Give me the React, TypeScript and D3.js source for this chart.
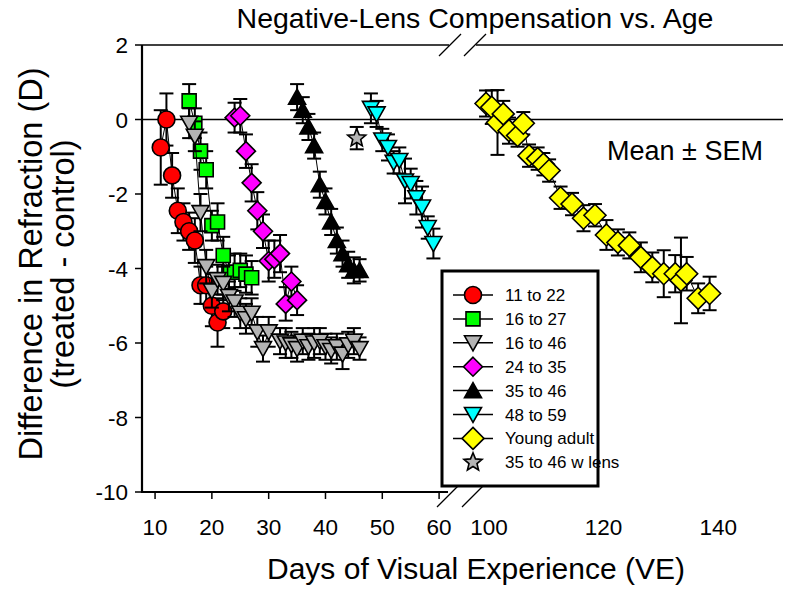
import React from 'react';
import * as d3 from 'd3';

const W = 792;
const H = 589;

const yTicks = [2, 0, -2, -4, -6, -8, -10];
const xTicks1 = [10, 20, 30, 40, 50, 60];
const xTicks2 = [100, 120, 140];

const titleText = 'Negative-Lens Compensation vs. Age';
const xTitle = 'Days of Visual Experience (VE)';
const yTitle1 = 'Difference in Refraction (D)';
const yTitle2 = '(treated - control)';
const noteText = 'Mean \u00B1 SEM';

const legendLabels = ['11 to 22', '16 to 27', '16 to 46', '24 to 35', '35 to 46', '48 to 59', 'Young adult', '35 to 46 w lens'];

// 11 to 22
const redDays = [11, 12, 13, 14, 15, 16, 17, 18, 19, 20, 21, 22];
const redVals = [-0.75, 0, -1.5, -2.45, -2.75, -3.0, -3.25, -4.45, -4.45, -5.0, -5.45, -5.15];
const redSem = [1.0, 0.7, 0.6, 0.6, 0.5, 0.5, 0.6, 0.5, 0.5, 0.55, 0.65, 0.45];

// 16 to 27
const greenDays = [16, 17, 18, 19, 20, 21, 22, 23, 24, 25, 26, 27];
const greenVals = [0.5, -0.1, -0.85, -1.35, -2.85, -2.75, -3.65, -4.1, -4.1, -4.05, -4.15, -4.25];
const greenSem = [0.45, 0.4, 0.5, 0.5, 0.4, 0.5, 0.5, 0.45, 0.5, 0.45, 0.5, 0.45];

// 16 to 46
const grayDays = [16, 17, 18, 19, 20, 21, 22, 23, 24, 25, 26, 27, 28, 29, 30, 32, 33, 34, 35, 36, 37, 38, 39, 40, 41, 42, 43, 44, 45, 46];
const grayVals = [-0.1, -0.45, -2.5, -3.95, -4.6, -4.3, -4.4, -4.75, -4.9, -5.2, -5.35, -5.2, -5.7, -6.15, -5.7, -5.95, -6.0, -6.05, -6.15, -5.95, -6.1, -6.0, -5.95, -6.1, -6.2, -6.1, -6.3, -6.05, -5.95, -6.15];
const graySem = [0.4, 0.4, 0.5, 0.45, 0.45, 0.4, 0.45, 0.4, 0.4, 0.4, 0.4, 0.4, 0.4, 0.35, 0.4, 0.35, 0.4, 0.35, 0.35, 0.35, 0.35, 0.4, 0.35, 0.35, 0.35, 0.35, 0.4, 0.35, 0.35, 0.3];

// 24 to 35
const magDays = [24, 25, 26, 27, 28, 29, 30, 31, 32, 33, 34, 35];
const magVals = [0.05, 0.1, -0.85, -1.7, -2.45, -3.0, -3.8, -3.75, -3.6, -4.95, -4.35, -4.85];
const magSem = [0.4, 0.45, 0.45, 0.5, 0.5, 0.45, 0.55, 0.5, 0.5, 0.45, 0.4, 0.4];

// 35 to 46
const blackDays = [35, 36, 37, 38, 39, 40, 41, 42, 43, 44, 45, 46];
const blackVals = [0.6, 0.25, -0.2, -0.7, -1.75, -2.2, -2.75, -3.25, -3.6, -3.9, -4.05, -4.05];
const blackSem = [0.35, 0.35, 0.35, 0.35, 0.35, 0.35, 0.35, 0.35, 0.35, 0.35, 0.35, 0.3];

// 48 to 59
const cyanDays = [48, 49, 50, 51, 52, 53, 54, 55, 56, 57, 58, 59];
const cyanVals = [0.3, 0.15, -0.55, -0.75, -1.15, -1.1, -1.65, -1.72, -2.1, -2.35, -2.9, -3.33];
const cyanSem = [0.4, 0.35, 0.3, 0.35, 0.3, 0.35, 0.6, 0.4, 0.45, 0.55, 0.3, 0.4];

// Young adult
const yaDays = [99.5, 100.5, 101.5, 102.5, 103.5, 105, 106, 107, 108.5, 109.5, 110.5, 112.5, 114.5, 116.5, 118.5, 120.5, 122.5, 124.5, 126.5, 128.5, 130.5, 132.5, 133.5, 134.5, 136.5, 138.5];
const yaVals = [0.43, 0.33, -0.08, 0.15, -0.3, -0.43, -0.1, -0.97, -1.05, -1.2, -1.37, -2.1, -2.27, -2.65, -2.57, -3.1, -3.3, -3.38, -3.7, -3.97, -4.14, -4.14, -4.32, -4.14, -4.8, -4.67];
const yaSem = [0.35, 0.45, 0.87, 0.35, 0.35, 0.3, 0.3, 0.3, 0.3, 0.3, 0.3, 0.3, 0.3, 0.35, 0.3, 0.4, 0.35, 0.35, 0.4, 0.4, 0.63, 0.5, 1.15, 0.45, 0.4, 0.45];

// 35 to 46 w lens
const starDays = [45.5];
const starVals = [-0.5];
const starSem = [0.3];

type Shape = 'circle' | 'square' | 'tdown' | 'tup' | 'diamond' | 'bigdiamond' | 'star';

const seriesList = [
  { days: redDays, vals: redVals, sem: redSem, shape: 'circle' as Shape, fill: '#ff0000' },
  { days: greenDays, vals: greenVals, sem: greenSem, shape: 'square' as Shape, fill: '#00ff00' },
  { days: grayDays, vals: grayVals, sem: graySem, shape: 'tdown' as Shape, fill: '#b4b4b4' },
  { days: magDays, vals: magVals, sem: magSem, shape: 'diamond' as Shape, fill: '#ff00ff' },
  { days: blackDays, vals: blackVals, sem: blackSem, shape: 'tup' as Shape, fill: '#000000' },
  { days: cyanDays, vals: cyanVals, sem: cyanSem, shape: 'tdown' as Shape, fill: '#00ffff' },
  { days: yaDays, vals: yaVals, sem: yaSem, shape: 'bigdiamond' as Shape, fill: '#ffff00' },
  { days: starDays, vals: starVals, sem: starSem, shape: 'star' as Shape, fill: '#b4b4b4' },
];

function shapePath(shape: Shape): string {
  switch (shape) {
    case 'circle': {
      const p = d3.path();
      p.arc(0, 0, 8.5, 0, Math.PI * 2);
      p.closePath();
      return p.toString();
    }
    case 'square':
      return 'M-7,-7L7,-7L7,7L-7,7Z';
    case 'tdown':
      return 'M-8.5,-7L8.5,-7L0,8Z';
    case 'tup':
      return 'M0,-8L8.5,7L-8.5,7Z';
    case 'diamond':
      return 'M0,-9.5L9.5,0L0,9.5L-9.5,0Z';
    case 'bigdiamond':
      return 'M0,-11L11,0L0,11L-11,0Z';
    case 'star': {
      const pts: string[] = [];
      for (let i = 0; i < 10; i++) {
        const r = i % 2 === 0 ? 9.5 : 4.2;
        const a = -Math.PI / 2 + (i * Math.PI) / 5;
        pts.push(`${(r * Math.cos(a)).toFixed(2)},${(r * Math.sin(a)).toFixed(2)}`);
      }
      return 'M' + pts.join('L') + 'Z';
    }
  }
  return '';
}

const FONT = '"Liberation Sans", Arial, sans-serif';

export default function App() {
  const left = 142;
  const top = 45;
  const bottom = 492;
  const right = 783;
  const brk1 = 450;
  const brk2 = 475;

  const y = d3.scaleLinear().domain([-10, 2]).range([bottom, top]);
  const x1 = d3.scaleLinear().domain([7.7, 62.8]).range([left, 455]);
  const x2 = d3.scaleLinear().domain([96.7, 151.3]).range([470, right]);
  const xs = (d: number) => (d < 80 ? x1(d) : x2(d));

  const line = d3
    .line<[number, number]>()
    .x((p) => xs(p[0]))
    .y((p) => y(p[1]));

  const slash = (cx: number, cy: number, k: string) => (
    <line key={k} x1={cx - 11} y1={cy + 11} x2={cx + 11} y2={cy - 11} stroke="#000" strokeWidth={1.2} />
  );

  const capW = 7;

  const legX = 442;
  const legY = 271;
  const legW = 156;
  const legH = 215;
  const rowY0 = 295;
  const rowDy = 23.9;

  return (
    <svg width={W} height={H} style={{ position: 'absolute', left: 0, top: 0, background: '#fff' }} fontFamily={FONT}>
      <rect x={0} y={0} width={W} height={H} fill="#fff" />
      {/* title */}
      <text x={475} y={28} fontSize={28.5} textAnchor="middle" fill="#000">{titleText}</text>

      {/* zero line */}
      <line x1={left} x2={right} y1={y(0)} y2={y(0)} stroke="#000" strokeWidth={1.3} />

      {/* series */}
      {seriesList.map((s, si) => {
        const pts: [number, number][] = s.days.map((d, i) => [d, s.vals[i]]);
        return (
          <g key={si}>
            {pts.length > 1 && <path d={line(pts) || ''} fill="none" stroke="#000" strokeWidth={1} />}
            {pts.map((p, i) => {
              const cx = xs(p[0]);
              const yt = y(p[1] + s.sem[i]);
              const yb = y(p[1] - s.sem[i]);
              return (
                <g key={i} stroke="#000" strokeWidth={2}>
                  <line x1={cx} x2={cx} y1={yt} y2={yb} />
                  <line x1={cx - capW} x2={cx + capW} y1={yt} y2={yt} />
                  <line x1={cx - capW} x2={cx + capW} y1={yb} y2={yb} />
                </g>
              );
            })}
            {pts.map((p, i) => (
              <path
                key={'m' + i}
                d={shapePath(s.shape)}
                transform={`translate(${xs(p[0])},${y(p[1])})`}
                fill={s.fill}
                stroke="#000"
                strokeWidth={1.6}
              />
            ))}
          </g>
        );
      })}

      {/* axes */}
      <line x1={left} x2={left} y1={top} y2={bottom + 1} stroke="#000" strokeWidth={2.2} />
      <line x1={left - 1} x2={brk1 - 2} y1={bottom} y2={bottom} stroke="#000" strokeWidth={2.2} />
      <line x1={left} x2={brk1 - 1} y1={top} y2={top} stroke="#000" strokeWidth={1.3} />
      <line x1={brk2 + 1} x2={right} y1={top} y2={top} stroke="#000" strokeWidth={1.3} />
      {slash(brk1, top, 't1')}
      {slash(brk2, top, 't2')}
      {slash(brk1 - 2, bottom + 4, 'b1')}
      {slash(brk2 - 2, bottom + 4, 'b2')}

      {yTicks.map((t) => (
        <g key={'y' + t}>
          <line x1={left - 7} x2={left} y1={y(t)} y2={y(t)} stroke="#000" strokeWidth={1.5} />
          <text x={128} y={y(t) + 8} fontSize={22.5} textAnchor="end" fill="#000">{t}</text>
        </g>
      ))}
      {xTicks1.map((t) => (
        <g key={'x' + t}>
          <line x1={x1(t)} x2={x1(t)} y1={bottom} y2={bottom + 7} stroke="#000" strokeWidth={1.5} />
          <text x={x1(t)} y={535} fontSize={22.5} textAnchor="middle" fill="#000">{t}</text>
        </g>
      ))}
      {xTicks2.map((t) => (
        <g key={'x2' + t}>
          <text x={x2(t)} y={535} fontSize={22.5} textAnchor="middle" fill="#000">{t}</text>
        </g>
      ))}

      {/* axis titles */}
      <text x={476} y={579} fontSize={30} textAnchor="middle" fill="#000">{xTitle}</text>
      <text transform={`translate(42,264) rotate(-90)`} fontSize={32.5} textAnchor="middle" fill="#000">{yTitle1}</text>
      <text transform={`translate(74,264) rotate(-90)`} fontSize={32.5} textAnchor="middle" fill="#000">{yTitle2}</text>

      <text x={685} y={160} fontSize={27} textAnchor="middle" fill="#000">{noteText}</text>

      {/* legend */}
      <rect x={legX} y={legY} width={legW} height={legH} fill="#fff" stroke="#000" strokeWidth={3} />
      {legendLabels.map((lab, i) => {
        const s = seriesList[i];
        const ry = rowY0 + i * rowDy;
        return (
          <g key={'l' + i}>
            {s.shape !== 'star' && <line x1={453} x2={493} y1={ry} y2={ry} stroke="#000" strokeWidth={1.5} />}
            <path d={shapePath(s.shape)} transform={`translate(473,${ry})`} fill={s.fill} stroke="#000" strokeWidth={1.6} />
            <text x={505} y={ry + 6} fontSize={17} fill="#000">{lab}</text>
          </g>
        );
      })}
    </svg>
  );
}
